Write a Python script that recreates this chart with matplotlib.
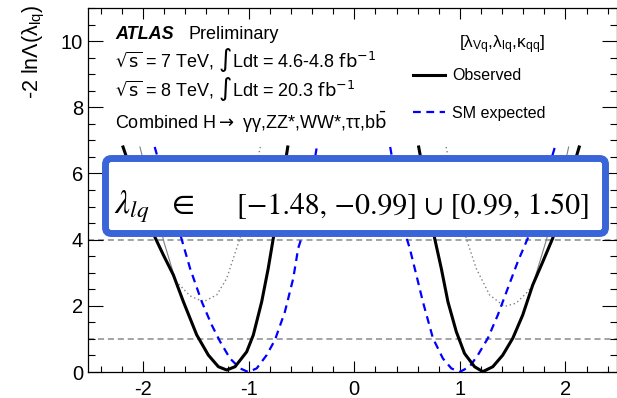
import matplotlib
matplotlib.use("Agg")
import matplotlib.pyplot as plt
from matplotlib.patches import FancyBboxPatch
from matplotlib.ticker import MultipleLocator

plt.rcParams['font.family'] = ['Liberation Sans', 'DejaVu Sans']
plt.rcParams['mathtext.fontset'] = 'custom'
plt.rcParams['mathtext.rm'] = 'Liberation Sans'
plt.rcParams['mathtext.it'] = 'Liberation Sans:italic'
plt.rcParams['mathtext.bf'] = 'Liberation Sans:bold'
plt.rcParams['axes.unicode_minus'] = False

# ---- data ----
obs_left_x = [-2.19, -2.05, -1.886, -1.807, -1.713, -1.618, -1.492, -1.382, -1.287, -1.208,
              -1.129, -1.019, -0.956, -0.877, -0.815, -0.767, -0.70, -0.63]
obs_left_y = [6.8, 5.5, 4.06, 3.53, 2.93, 2.12, 1.12, 0.51, 0.16, 0.06,
              0.16, 0.61, 1.12, 2.12, 3.13, 4.04, 5.4, 6.8]
obs_right_x = [0.61, 0.69, 0.761, 0.824, 0.887, 0.966, 1.044, 1.139, 1.217, 1.312,
               1.406, 1.501, 1.595, 1.69, 1.785, 1.879, 2.0, 2.13]
obs_right_y = [6.8, 5.4, 4.04, 3.13, 2.12, 1.22, 0.56, 0.16, 0.01, 0.16,
               0.51, 1.02, 1.72, 2.63, 3.33, 4.04, 5.4, 6.8]

exp_left_x = [-1.89, -1.76, -1.633, -1.555, -1.444, -1.35, -1.271, -1.177, -1.082, -1.004,
              -0.924, -0.83, -0.751, -0.657, -0.578, -0.531, -0.505, -0.43, -0.355]
exp_left_y = [6.8, 5.35, 3.99, 3.13, 2.12, 1.42, 0.92, 0.41, 0.11, 0.0,
              0.11, 0.51, 0.97, 1.82, 2.83, 3.74, 4.0, 5.35, 6.8]
exp_right_x = [0.34, 0.42, 0.50, 0.525, 0.588, 0.65, 0.745, 0.839, 0.919, 0.997,
               1.092, 1.17, 1.265, 1.359, 1.454, 1.548, 1.643, 1.77, 1.90]
exp_right_y = [6.8, 5.35, 4.0, 3.74, 2.93, 2.12, 1.02, 0.41, 0.11, 0.0,
               0.16, 0.51, 1.02, 1.72, 2.53, 3.33, 4.04, 5.4, 6.8]

dot_left_x = [-1.69, -1.555, -1.429, -1.302, -1.208, -1.146, -1.082, -0.98, -0.89]
dot_left_y = [2.75, 2.3, 2.12, 2.33, 2.83, 3.43, 4.04, 5.4, 6.8]
dot_right_x = [0.87, 0.96, 1.06, 1.155, 1.281, 1.423, 1.533, 1.643, 1.69]
dot_right_y = [6.8, 5.4, 4.04, 3.13, 2.33, 1.98, 2.08, 2.43, 2.63]

thin_left_x = [-1.70, -1.80, -1.90, -2.03]
thin_left_y = [2.85, 3.9, 5.2, 6.8]
thin_right_x = [1.69, 1.82, 1.92, 2.03]
thin_right_y = [2.63, 4.0, 5.2, 6.8]

ref_levels = [1, 4]
x_ticks = [-2, -1, 0, 1, 2]
y_ticks = [0, 2, 4, 6, 8, 10]

W, H, DPI = 617, 398, 100
fig = plt.figure(figsize=(W / DPI, H / DPI), dpi=DPI)
L, R, T, B = 88.5, 617, 8, 372
ax = fig.add_axes([L / W, (H - B) / H, (R - L) / W, (B - T) / H])

for lv in ref_levels:
    ax.axhline(lv, color='#8a8a8a', lw=1.1, ls=(0, (4, 2.5)), zorder=1)

ax.plot(dot_left_x, dot_left_y, color='#808080', lw=1.0, ls=(0, (1, 2)), zorder=2)
ax.plot(dot_right_x, dot_right_y, color='#808080', lw=1.0, ls=(0, (1, 2)), zorder=2)
ax.plot(thin_left_x, thin_left_y, color='#808080', lw=0.8, zorder=2)
ax.plot(thin_right_x, thin_right_y, color='#808080', lw=0.8, zorder=2)

exp_line, = ax.plot(exp_left_x, exp_left_y, color='#0000ff', lw=1.6, ls=(0, (3.5, 2.5)), zorder=3)
ax.plot(exp_right_x, exp_right_y, color='#0000ff', lw=1.6, ls=(0, (3.5, 2.5)), zorder=3)
obs_line, = ax.plot(obs_left_x, obs_left_y, color='black', lw=2.2, zorder=4)
ax.plot(obs_right_x, obs_right_y, color='black', lw=2.2, zorder=4)

ax.set_xlim(-2.517, 2.488)
ax.set_ylim(0, 11)
ax.set_xticks(x_ticks)
ax.set_yticks(y_ticks)
ax.xaxis.set_minor_locator(MultipleLocator(0.2))
ax.yaxis.set_minor_locator(MultipleLocator(0.5))
ax.tick_params(axis='both', which='both', direction='in', top=True, right=True,
               labelsize=14.5, width=0.8, color='black')
ax.tick_params(axis='x', which='major', length=8, pad=6)
ax.tick_params(axis='x', which='minor', length=4.3)
ax.tick_params(axis='y', which='major', length=11, pad=4)
ax.tick_params(axis='y', which='minor', length=5)
for s in ax.spines.values():
    s.set_linewidth(0.9)

ax.set_ylabel('-2 lnΛ(λ$_{\\rm lq}$)', fontsize=15.5)
ax.yaxis.set_label_coords(-(L - 47) / (R - L), 1.0 - (52 - T) / (B - T))

def fx(px):
    return px / W

def fy(py):
    return 1 - py / H

fig.text(fx(115), fy(39), 'ATLAS', fontsize=13, fontweight='bold', fontstyle='italic', va='baseline')
fig.text(fx(188), fy(39), 'Preliminary', fontsize=13, va='baseline')
lkw = dict(fontsize=13, va='baseline', math_fontfamily='dejavusans')
fig.text(fx(115), fy(67), '$\\sqrt{\\rm s}$ = 7 TeV, $\\int$Ldt = 4.6-4.8 $\\rm fb^{-1}$', **lkw)
fig.text(fx(115), fy(96), '$\\sqrt{\\rm s}$ = 8 TeV, $\\int$Ldt = 20.3 $\\rm fb^{-1}$', **lkw)
fig.text(fx(115), fy(129), 'Combined H$\\rightarrow$ γγ,ZZ*,WW*,ττ,b$\\bar{\\rm b}$', **lkw)

fig.text(fx(502), fy(48), '[λ$_{\\rm Vq}$,λ$_{\\rm lq}$,κ$_{\\rm qq}$]', fontsize=12.5,
         ha='center', va='baseline')
leg = ax.legend([obs_line, exp_line], ['Observed', 'SM expected'],
                loc='upper left', bbox_to_anchor=(fx(413), fy(68.5)), bbox_transform=fig.transFigure,
                frameon=False, fontsize=11.5, handlelength=2.0,
                handletextpad=0.45, labelspacing=1.4, borderpad=0, borderaxespad=0)

# highlighted result box
box = FancyBboxPatch((105.5 / DPI, (H - 233.5) / DPI), 500 / DPI, 75 / DPI,
                     boxstyle='round,pad=0,rounding_size=0.06',
                     transform=fig.dpi_scale_trans, facecolor='white',
                     edgecolor='#3a65d8', linewidth=5, zorder=5)
fig.add_artist(box)
fig.text(fx(114), fy(213), '$\\lambda_{lq}$', fontsize=24, math_fontfamily='stix',
         va='baseline', zorder=6)
fig.text(fx(172), fy(213), '∈', fontsize=24, family='STIXGeneral', va='baseline', zorder=6)
fig.text(fx(237), fy(213), '[−1.48, −0.99] ∪ [0.99, 1.50]', fontsize=21.5,
         family='STIXGeneral', va='baseline', zorder=6)

fig.savefig('out.png', dpi=DPI)
